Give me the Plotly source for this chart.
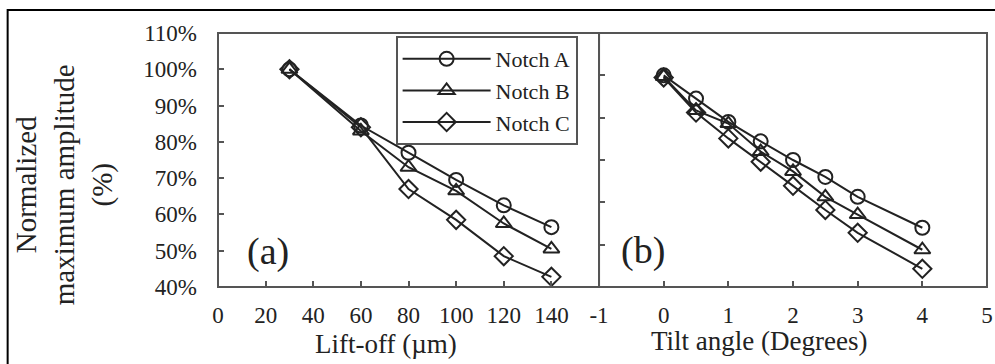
import plotly.graph_objects as go

# ---- data ----
liftoff = [30, 60, 80, 100, 120, 140]
a_notchA = [100, 84.5, 77, 69.5, 62.5, 56.5]
a_notchB = [100, 83, 73, 66.5, 57.5, 50.5]
a_notchC = [100, 84, 67, 58.5, 48.5, 42.8]

tilt = [0, 0.5, 1, 1.5, 2, 2.5, 3, 4]
b_notchA = [100, 94.5, 89, 84.4, 80, 76, 71.3, 64]
b_notchB = [99.7, 91.7, 88.6, 82, 77.3, 71.3, 67.1, 58.8]
b_notchC = [99.5, 91.2, 85.1, 79.6, 73.9, 68.2, 62.8, 54.3]

series_names = ["Notch A", "Notch B", "Notch C"]
symbols = ["circle-open", "triangle-up-open", "diamond-open"]
xticks_a = [0, 20, 40, 60, 80, 100, 120, 140]
xticks_b = [-1, 0, 1, 2, 3, 4, 5]
yticks_a = [40, 50, 60, 70, 80, 90, 100, 110]
yticks_b = [60, 70, 80, 90, 100]

W, H = 995, 364
ML, MR, MT, MB = 218, 2, 33, 77
PW = W - ML - MR
PH = H - MT - MB
SPLIT = 602


def px(x):
    return (x - ML) / PW


def py(y):
    return (MT + PH - y) / PH


FONT = "Times New Roman, Liberation Serif, serif"
INK = "#222222"
FRAME = "#555555"

fig = go.Figure()

for name, sym, ys in zip(series_names, symbols, [a_notchA, a_notchB, a_notchC]):
    fig.add_trace(go.Scatter(
        x=liftoff, y=ys, name=name, mode="lines+markers",
        line=dict(color=INK, width=2),
        marker=dict(symbol=sym, size=14, color=INK, line=dict(width=2)),
        xaxis="x", yaxis="y", showlegend=True))

for name, sym, ys in zip(series_names, symbols, [b_notchA, b_notchB, b_notchC]):
    fig.add_trace(go.Scatter(
        x=tilt, y=ys, name=name, mode="lines+markers",
        line=dict(color=INK, width=2),
        marker=dict(symbol=sym, size=14, color=INK, line=dict(width=2)),
        xaxis="x2", yaxis="y2", showlegend=False))

tickfont = dict(family=FONT, size=23, color=INK)
axis_common = dict(showline=False, showgrid=False, zeroline=False,
                   ticks="inside", ticklen=6, tickcolor=FRAME, tickwidth=1.5,
                   tickfont=tickfont, ticklabeloverflow="allow")

fig.update_layout(
    width=W, height=H,
    margin=dict(l=ML, r=MR, t=MT, b=MB),
    paper_bgcolor="white", plot_bgcolor="white",
    font=dict(family=FONT, color=INK, size=23),
    xaxis=dict(domain=[0, px(SPLIT)], range=[0, 160], tickvals=xticks_a,
               ticktext=[str(v) for v in xticks_a], ticklabelstandoff=12,
               anchor="y", **axis_common),
    yaxis=dict(domain=[0, 1], range=[40, 110], tickvals=yticks_a,
               ticktext=[f"{v}%" for v in yticks_a], ticklabelstandoff=20,
               anchor="x", **axis_common),
    xaxis2=dict(domain=[px(SPLIT), 1], range=[-1, 5], tickvals=xticks_b,
                ticktext=[str(v) for v in xticks_b], ticklabelstandoff=12,
                anchor="y2", **axis_common),
    yaxis2=dict(domain=[0, 1], range=[50, 110], tickvals=yticks_b,
                showticklabels=False, anchor="x2", **axis_common),
    legend=dict(x=px(397), y=py(36), xanchor="left", yanchor="top",
                bordercolor=FRAME, borderwidth=2, bgcolor="white",
                font=dict(family=FONT, size=22, color=INK),
                itemwidth=88, tracegroupgap=0),
    showlegend=True,
)

annos = [
    dict(text="Lift-off (µm)", x=px(387), y=py(344), size=27, angle=0),
    dict(text="Tilt angle (Degrees)", x=px(763), y=py(341), size=27, angle=0),
    dict(text="Normalized<br>maximum amplitude<br>(%)", x=px(63), y=py(185), size=29, angle=-90),
    dict(text="(a)", x=px(268), y=py(251), size=38, angle=0),
    dict(text="(b)", x=px(646), y=py(250), size=38, angle=0),
]
for a in annos:
    fig.add_annotation(text=a["text"], x=a["x"], y=a["y"], xref="paper", yref="paper",
                       xanchor="center", yanchor="middle", showarrow=False,
                       textangle=a["angle"],
                       font=dict(family=FONT, size=a["size"], color=INK))

# panel frames
for xr, yr in [("x domain", "y domain"), ("x2 domain", "y2 domain")]:
    fig.add_shape(type="rect", xref=xr, yref=yr, x0=0, x1=1, y0=0, y1=1,
                  line=dict(color=FRAME, width=2), fillcolor="rgba(0,0,0,0)", layer="above")

# outer frame of the figure
fig.add_shape(type="rect", xref="paper", yref="paper",
              x0=px(6), x1=px(1010), y0=py(380), y1=py(10),
              line=dict(color="black", width=2), fillcolor="rgba(0,0,0,0)", layer="below")

fig.write_html("out.html", config={"displayModeBar": False},
               post_script="document.body.style.margin='0';")
